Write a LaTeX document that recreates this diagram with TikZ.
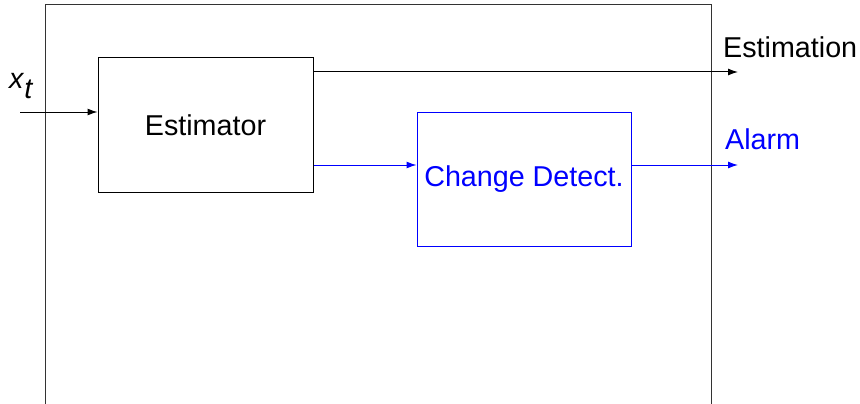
\documentclass[tikz,border=0pt]{standalone}
\usepackage{fontspec}
\setmainfont{Liberation Sans}
\usetikzlibrary{arrows.meta}
\definecolor{cdblue}{RGB}{0,0,255}
\begin{document}
\begin{tikzpicture}[x=1pt,y=-1pt,
  box/.style={draw,line width=1pt,inner sep=0pt,rectangle,
    font=\fontsize{28.7}{34}\selectfont},
  lbl/.style={inner sep=0pt,anchor=west,font=\fontsize{28.7}{34}\selectfont},
  arr/.style={line width=1pt,-{Latex[length=10pt,width=7pt]}}]
\useasboundingbox (0,0) rectangle (860,404);
% outer frame
\draw[line width=1pt,black!80] (45,404) -- (45,5) -- (711,5) -- (711,404);
% blocks
\node[box,minimum width=215pt,minimum height=134pt] (est) at (205.5,125) {Estimator};
\node[box,draw=cdblue,text=cdblue,minimum width=214pt,minimum height=134pt] (cd) at (524,179) {Change Detect.};
% coordinates
\coordinate (in) at (20,112);
\coordinate (e1) at (738,72);
\coordinate (a1) at (738,165);
% labels
\node[lbl] (xt) at (9,86) {\textit{x}$_{\textit{t}}$};
\node[lbl] (estl) at (723,47) {Estimation};
\node[lbl,text=cdblue] (alarm) at (725,139) {Alarm};
% connectors
\draw[arr] (in) -- (in -| est.west);
\draw[arr] (e1 -| est.east) -- (e1);
\draw[arr,cdblue] (a1 -| est.east) -- (a1 -| cd.west);
\draw[arr,cdblue] (a1 -| cd.east) -- (a1);
\end{tikzpicture}
\end{document}
